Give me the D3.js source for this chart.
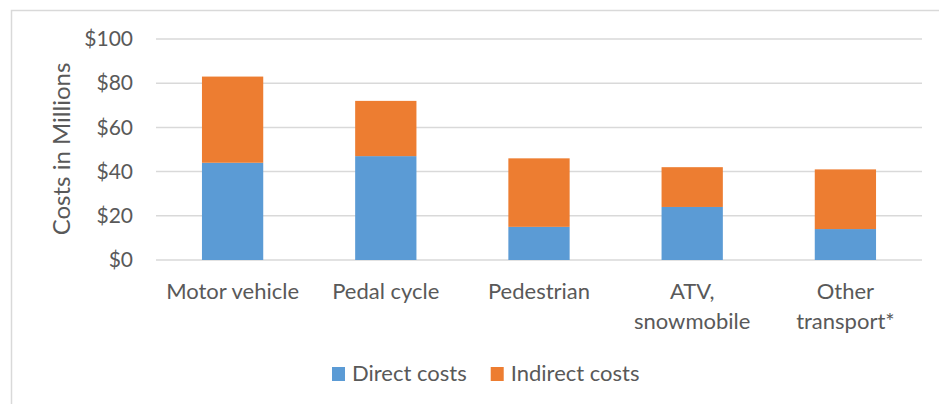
<!DOCTYPE html>
<html>
<head>
<meta charset="utf-8">
<script src="https://cdn.jsdelivr.net/npm/d3@7"></script>
<style>
  body { margin: 0; background: #fff; }
  text { font-family: Lato, "Open Sans", sans-serif; fill: #595959; }
</style>
</head>
<body>
<div id="chart"></div>
<script>
'use strict';

var categories = [["Motor vehicle"], ["Pedal cycle"], ["Pedestrian"], ["ATV,", "snowmobile"], ["Other", "transport*"]],
    seriesNames = ["Direct costs", "Indirect costs"],
    directCosts = [44, 47, 15, 24, 14],
    indirectCosts = [39, 25, 31, 18, 27],
    yTicks = [0, 20, 40, 60, 80, 100],
    colors = ["#5b9bd5", "#ed7d31"];

var width = 939, height = 404,
    margin = {top: 39, right: 17, bottom: 144, left: 156};

var svg = d3.select("#chart").append("svg")
    .attr("width", width)
    .attr("height", height);

// outer chart frame
svg.append("rect")
    .attr("x", 11.5).attr("y", 10.5)
    .attr("width", 960).attr("height", 420)
    .attr("fill", "none")
    .attr("stroke", "#d9d9d9")
    .attr("stroke-width", 1.5);

var x = d3.scaleBand()
    .domain(d3.range(categories.length))
    .range([margin.left, width - margin.right])
    .paddingInner(0.6)
    .paddingOuter(0.3);

var y = d3.scaleLinear()
    .domain([0, 100])
    .range([height - margin.bottom, margin.top]);

// gridlines
svg.append("g")
    .selectAll("line")
    .data(yTicks)
    .enter().append("line")
    .attr("x1", margin.left)
    .attr("x2", width - margin.right)
    .attr("y1", function(d) { return y(d); })
    .attr("y2", function(d) { return y(d); })
    .attr("stroke", "#d9d9d9")
    .attr("stroke-width", 1.5);

// y axis labels
var yAxis = d3.axisLeft(y)
    .tickValues(yTicks)
    .tickSize(0)
    .tickPadding(0)
    .tickFormat(function(d) { return "$" + d; });

var gy = svg.append("g")
    .attr("transform", "translate(133,0)")
    .call(yAxis);
gy.select(".domain").remove();
gy.selectAll("text")
    .style("font-family", "Lato, sans-serif")
    .attr("font-size", 21)
    .attr("fill", "#595959");

// stacked bars
var stack = d3.stack().keys([0, 1])(d3.range(categories.length).map(function(i) {
    return [directCosts[i], indirectCosts[i]];
}));

svg.append("g")
    .selectAll("g")
    .data(stack)
    .enter().append("g")
    .attr("fill", function(d, i) { return colors[i]; })
    .selectAll("rect")
    .data(function(d) { return d; })
    .enter().append("rect")
    .attr("x", function(d, i) { return x(i); })
    .attr("width", x.bandwidth())
    .attr("y", function(d) { return y(d[1]); })
    .attr("height", function(d) { return y(d[0]) - y(d[1]); });

// category labels
svg.append("g")
    .selectAll("text")
    .data(categories)
    .enter().append("text")
    .attr("text-anchor", "middle")
    .attr("font-size", 22)
    .attr("transform", function(d, i) {
        return "translate(" + (x(i) + x.bandwidth() / 2) + "," + 299 + ")";
    })
    .selectAll("tspan")
    .data(function(d) { return d; })
    .enter().append("tspan")
    .attr("x", 0)
    .attr("dy", function(d, i) { return i ? 30 : 0; })
    .text(function(d) { return d; });

// y axis title
svg.append("text")
    .attr("transform", "translate(70,149) rotate(-90)")
    .attr("text-anchor", "middle")
    .attr("font-size", 24)
    .text("Costs in Millions");

// legend, laid out left to right
var legend = svg.append("g").attr("transform", "translate(332,367)");
var lx = 0;
seriesNames.forEach(function(name, i) {
    var item = legend.append("g").attr("transform", "translate(" + lx + ",0)");
    item.append("rect")
        .attr("width", 13).attr("height", 14)
        .attr("fill", colors[i]);
    var t = item.append("text")
        .attr("x", 20)
        .attr("y", 14)
        .attr("font-size", 22)
        .text(name);
    lx += 20 + t.node().getComputedTextLength() + 24;
});
</script>
</body>
</html>
